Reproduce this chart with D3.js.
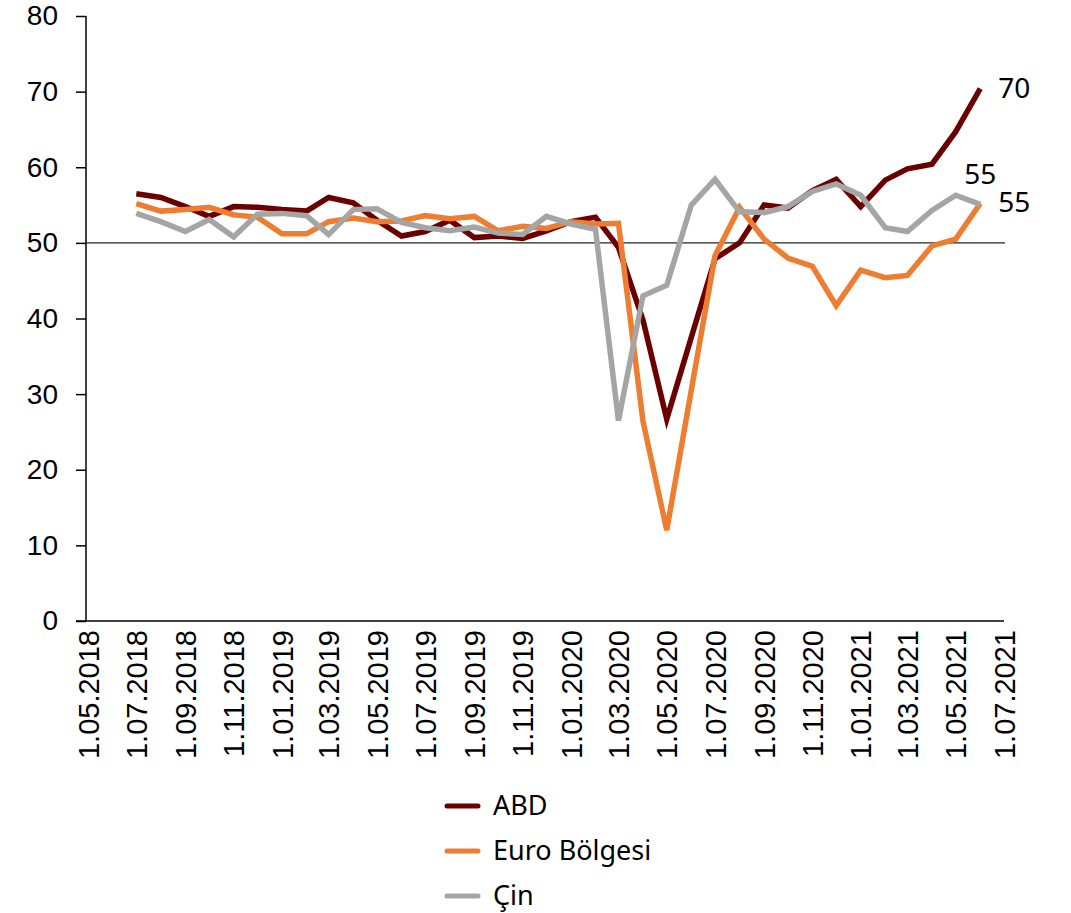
<!DOCTYPE html>
<html>
<head>
<meta charset="utf-8">
<script src="https://cdn.jsdelivr.net/npm/d3@7"></script>
<style>
  body { margin: 0; background: #fff; }
  svg { display: block; font-family: "Noto Sans", "Open Sans", sans-serif; }
</style>
</head>
<body>
<svg width="1071" height="913"></svg>
<script>
// monthly PMI values, first point plotted at 1.07.2018
const startMonth = "2018-07-01"
const abd = [56.5, 56.0, 54.8, 53.5, 54.8, 54.7, 54.4, 54.2, 56.0, 55.3, 53.0, 50.9,
  51.5, 53.0, 50.7, 50.9, 50.6, 51.6, 52.8, 53.4, 49.4, 39.8, 26.7, 37.5,
  47.9, 50.0, 55.0, 54.6, 56.9, 58.4, 54.8, 58.3, 59.8, 60.4, 64.7, 70.4]
const euro = [55.2, 54.2, 54.4, 54.7, 53.7, 53.4, 51.2, 51.2, 52.8, 53.3, 52.8, 52.9,
  53.6, 53.2, 53.5, 51.6, 52.2, 51.9, 52.8, 52.5, 52.6, 26.4, 12.0, 30.5,
  48.3, 54.7, 50.5, 48.0, 46.9, 41.7, 46.4, 45.4, 45.7, 49.6, 50.5, 55.2]
const cin = [53.9, 52.8, 51.5, 53.1, 50.8, 53.8, 53.9, 53.6, 51.1, 54.4, 54.5, 52.7,
  52.0, 51.6, 52.1, 51.3, 51.1, 53.5, 52.5, 51.8, 26.5, 43.0, 44.4, 55.0,
  58.4, 54.1, 54.0, 54.8, 56.8, 57.8, 56.3, 52.0, 51.5, 54.3, 56.3, 55.1]
const seriesNames = ["ABD", "Euro Bölgesi", "Çin"]
const seriesColors = ["#6b0000", "#ed7d31", "#a5a5a5"]
const tickLabels = ["1.05.2018", "1.07.2018", "1.09.2018", "1.11.2018", "1.01.2019", "1.03.2019",
  "1.05.2019", "1.07.2019", "1.09.2019", "1.11.2019", "1.01.2020", "1.03.2020", "1.05.2020",
  "1.07.2020", "1.09.2020", "1.11.2020", "1.01.2021", "1.03.2021", "1.05.2021", "1.07.2021"]
const yTicks = [0, 10, 20, 30, 40, 50, 60, 70, 80]

const parseTick = d3.timeParse("%-d.%m.%Y")
const fmt = d3.timeFormat("%-d.%m.%Y")
const svg = d3.select("svg")

const plotLeft = 86, plotRight = 1004, plotTop = 16, plotBottom = 621

const x = d3.scaleTime()
  .domain([parseTick(tickLabels[0]), parseTick(tickLabels[tickLabels.length - 1])])
  .range([plotLeft + 2, plotRight])
const y = d3.scaleLinear().domain([0, 80]).range([plotBottom, plotTop])

const start = d3.timeParse("%Y-%m-%d")(startMonth)
const maakReeks = values => values.map((v, i) => ({ date: d3.timeMonth.offset(start, i), value: v }))
const reeksen = [abd, euro, cin].map(maakReeks)

// y axis
const yAxis = svg.append("g")
  .attr("transform", `translate(${plotLeft},0)`)
  .call(d3.axisLeft(y).tickValues(yTicks).tickSize(10).tickPadding(18))
yAxis.selectAll("text").attr("font-size", 28).attr("fill", "#000")
yAxis.selectAll("line, path").attr("stroke", "#000").attr("stroke-width", 1.5)
yAxis.select("path").attr("d", `M0,${plotBottom}V${plotTop}`)

// x axis
const xAxis = svg.append("g")
  .attr("transform", `translate(0,${plotBottom})`)
  .call(d3.axisBottom(x).tickValues(tickLabels.map(parseTick)).tickFormat(fmt).tickSize(0).tickPadding(0))
xAxis.select("path").attr("d", `M${plotLeft - 10},0H${plotRight}`).attr("stroke", "#000").attr("stroke-width", 1.5)
xAxis.selectAll("text")
  .attr("font-size", 29)
  .attr("fill", "#000")
  .attr("text-anchor", "end")
  .attr("transform", "rotate(-90)")
  .attr("x", -9)
  .attr("y", 0)
  .attr("dy", "0.35em")

// 50 reference line
svg.append("line")
  .attr("x1", plotLeft).attr("x2", plotRight + 1)
  .attr("y1", y(50)).attr("y2", y(50))
  .attr("stroke", "#222").attr("stroke-width", 1.2)

const line = d3.line().x(d => x(d.date)).y(d => y(d.value))

svg.selectAll(".reeks")
  .data(reeksen)
  .enter()
  .append("path")
  .attr("class", "reeks")
  .attr("d", line)
  .attr("fill", "none")
  .attr("stroke", (d, i) => seriesColors[i])
  .attr("stroke-width", 5.5)
  .attr("stroke-linejoin", "miter")

// end labels
const laatste = reeksen.map(r => r[r.length - 1])
svg.append("text")
  .attr("x", x(laatste[0].date) + 18).attr("y", y(laatste[0].value))
  .attr("dy", "0.35em").attr("font-size", 28).text(Math.round(laatste[0].value))
svg.append("text")
  .attr("x", x(laatste[2].date) - 16).attr("y", y(laatste[2].value) - 30)
  .attr("dy", "0.35em").attr("font-size", 28).text(Math.round(laatste[2].value))
svg.append("text")
  .attr("x", x(laatste[1].date) + 18).attr("y", y(laatste[1].value) - 1)
  .attr("dy", "0.35em").attr("font-size", 28).text(Math.round(laatste[1].value))

// legend
const legend = svg.append("g").attr("transform", "translate(445,806)")
const items = legend.selectAll("g")
  .data(seriesNames)
  .enter()
  .append("g")
  .attr("transform", (d, i) => `translate(0,${i * 45})`)
items.append("line")
  .attr("x1", 2).attr("x2", 33)
  .attr("stroke", (d, i) => seriesColors[i])
  .attr("stroke-width", 5)
  .attr("stroke-linecap", "round")
items.append("text")
  .attr("x", 48).attr("dy", "0.35em")
  .attr("font-size", 27)
  .text(d => d)
</script>
</body>
</html>
